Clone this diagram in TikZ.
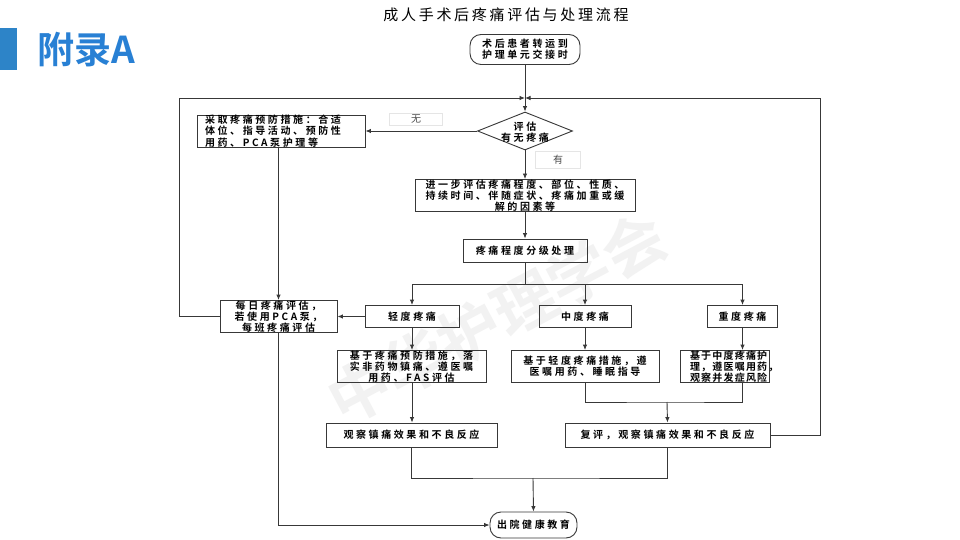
\documentclass[tikz,border=0pt]{standalone}
\usepackage{fontspec}
\setmainfont{Noto Sans CJK SC}
\newfontfamily\cjkbold[LetterSpace=26]{Noto Sans CJK SC Bold}
\newfontfamily\cjkboldn[LetterSpace=12]{Noto Sans CJK SC Bold}
\newfontfamily\cjkhead{Noto Sans CJK SC Bold}
\newfontfamily\cjktitle[LetterSpace=18]{Noto Sans CJK SC}
\newcommand\bxf{\cjkbold\fontsize{10}{11.2}\selectfont}
\newcommand\bxn{\cjkboldn\fontsize{10}{11.2}\selectfont}
\newcommand\lbf{\cjktitle\fontsize{10}{11}\selectfont}
\usetikzlibrary{shapes.geometric,arrows.meta}
\definecolor{barblue}{RGB}{45,132,200}
\definecolor{headblue}{RGB}{40,128,212}
\begin{document}
\begin{tikzpicture}[x=1pt,y=-1pt,
  line/.style={draw=black!78,line width=0.9pt},
  arr/.style={line,-{Latex[length=5.5pt,width=4.5pt]}},
  box/.style={draw=black!78,line width=0.9pt,inner sep=0pt,align=center,font=\bxf},
  term/.style={box,rounded corners=11pt},
  lbl/.style={draw=black!10,line width=0.6pt,inner sep=0pt,font=\lbf,text=black!70}]
\fill[white] (0,0) rectangle (960,540);
\useasboundingbox (0,0) rectangle (960,540);

% watermark
\node[rotate=28,font=\cjkhead\fontsize{62}{62}\selectfont,text=black!5] (wm) at (497,318) {中华护理学会};

% header
\fill[barblue] (0,28) rectangle (17,70);
\node[anchor=west,inner sep=0pt,font=\cjkhead\fontsize{37}{37}\selectfont,text=headblue] (head) at (37,50) {附录A};
\node[font=\cjktitle\fontsize{15}{15}\selectfont] (title) at (506,15) {成人手术后疼痛评估与处理流程};

% nodes
\node[term,minimum width=110,minimum height=30] (start) at (525,49.5) {术后患者转运到\\护理单元交接时};
\coordinate (mrg) at (525,98);
\node[draw=black!78,line width=0.9pt,diamond,minimum width=95,minimum height=38,inner sep=0pt] (dia) at (525,131) {};
\node[font=\bxf,align=center,inner sep=0pt] (diatxt) at (525,132) {评估\\有无疼痛};
\node[lbl,minimum width=53,minimum height=12] (nolbl) at (416,119) {无};
\node[lbl,minimum width=45,minimum height=17] (yeslbl) at (558,160) {有};
\node[box,align=left,text width=152,inner xsep=8pt,minimum height=31] (prev) at (281,131) {采取疼痛预防措施：合适\\体位、指导活动、预防性\\用药、PCA泵护理等};
\node[box,minimum width=220,minimum height=32] (further) at (525,195.5) {进一步评估疼痛程度、部位、性质、\\持续时间、伴随症状、疼痛加重或缓\\解的因素等};
\node[box,minimum width=124,minimum height=23] (grade) at (525,250.5) {疼痛程度分级处理};
\coordinate (bus) at (525,284);
\node[box,minimum width=94,minimum height=22] (mild) at (412,316.5) {轻度疼痛};
\node[box,minimum width=92,minimum height=22] (mod) at (585,316.5) {中度疼痛};
\node[box,minimum width=70,minimum height=22] (sev) at (742.5,316.5) {重度疼痛};
\node[box,minimum width=117,minimum height=32] (daily) at (278.5,316.5) {每日疼痛评估，\\若使用PCA泵，\\每班疼痛评估};
\node[box,minimum width=149,minimum height=32] (t1) at (411.5,366.5) {基于疼痛预防措施，落\\实非药物镇痛、遵医嘱\\用药、FAS评估};
\node[box,minimum width=148,minimum height=32] (t2) at (585,366.5) {基于轻度疼痛措施，遵\\医嘱用药、睡眠指导};
\node[box,font=\bxn,align=left,text width=69,inner xsep=10pt,minimum height=32] (t3) at (724.5,366.5) {基于中度疼痛护\\理，遵医嘱用药，\\观察并发症风险};
\node[box,minimum width=171,minimum height=24] (obs) at (411.5,435) {观察镇痛效果和不良反应};
\node[box,minimum width=205,minimum height=24] (rev) at (667.5,435) {复评，观察镇痛效果和不良反应};
\node[term,minimum width=87,minimum height=26] (out) at (533.5,525) {出院健康教育};
\coordinate (m2) at (667,402);
\coordinate (m3) at (533,478);

% connectors
\draw[arr] (start.south) -- (dia.north);
\draw[arr] (daily.west) -- ++(-40,0) |- (mrg);
\draw[arr] (rev.east) -- ++(50,0) |- (mrg);
\draw[arr] (dia.west) -- (prev.east);
\draw[arr] (prev.south -| daily.north) -- (daily.north);
\draw[arr] (dia.south) -- (further.north);
\draw[arr] (further.south) -- (grade.north);
\draw[line] (grade.south) -- (bus);
\draw[arr] (bus) -| (mild.north);
\draw[arr] (bus) -| (sev.north);
\draw[arr] (bus -| mod.north) -- (mod.north);
\draw[arr] (mild.west) -- (daily.east);
\draw[arr] (mild.south) -- (mild.south |- t1.north);
\draw[arr] (mod.south) -- (t2.north);
\draw[arr] (sev.south) -- (sev.south |- t3.north);
\draw[arr] (mild.south |- t1.south) -- (mild.south |- obs.north);
\draw[line] (t2.south) |- (m2) -| (sev.south |- t3.south);
\draw[arr] (m2) -- (rev.north);
\draw[line] (obs.south) |- (m3) -| (rev.south);
\draw[arr] (m3) -- (out.north);
\draw[arr] (daily.south) |- (out.west);
\end{tikzpicture}
\end{document}
